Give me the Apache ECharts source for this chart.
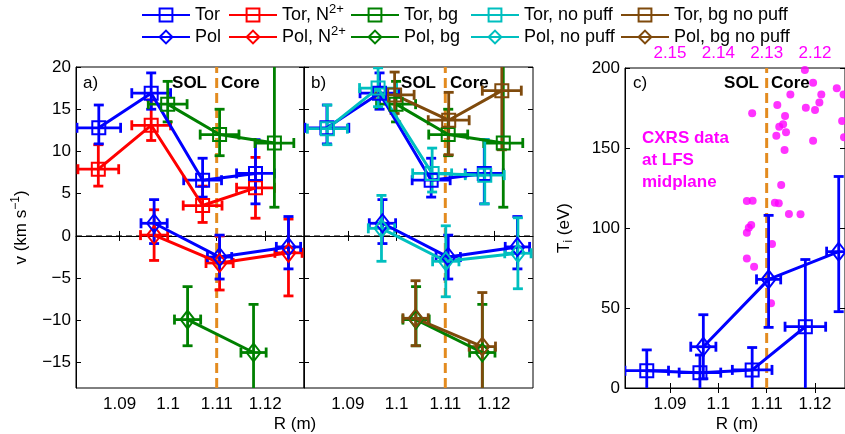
<!DOCTYPE html>
<html>
<head>
<meta charset="utf-8">
<script src="https://cdn.jsdelivr.net/npm/echarts@6/dist/echarts.min.js"></script>
<style>
  html, body { margin: 0; padding: 0; background: #fff; }
  #chart { width: 845px; height: 434px; }
</style>
</head>
<body>
<div id="chart"></div>
<script>
// ---- data (R in m, v in km/s, Ti in eV; errors are half widths) ----
const rTicks = [1.09, 1.10, 1.11, 1.12];
const vTicks = [-15, -10, -5, 0, 5, 10, 15, 20];
const tTicks = [0, 50, 100, 150, 200];
const topTickLabels = ['2.15', '2.14', '2.13', '2.12'];
const sepR = 1.11;

const torR = [1.0857, 1.0965, 1.1071, 1.1180];
const torV = [12.8, 16.9, 6.6, 7.4];
const torRErr = [0.0045, 0.0040, 0.0039, 0.0039];
const torVLo = [1.9, 1.9, 2.0, 3.6];
const torVHi = [2.7, 2.4, 2.6, 4.0];

const torNR = [1.0856, 1.0965, 1.1071, 1.1180];
const torNV = [7.9, 13.1, 3.6, 5.7];
const torNRErr = [0.0042, 0.0040, 0.0040, 0.0039];
const torNVLo = [2.0, 1.8, 2.0, 3.6];
const torNVHi = [2.9, 3.0, 2.3, 3.6];

const torBgR = [1.0999, 1.1106, 1.1219];
const torBgV = [15.6, 12.0, 11.0];
const torBgRErr = [0.0040, 0.0040, 0.0040];
const torBgVLo = [2.1, 2.5, 7.6];
const torBgVHi = [2.7, 3.0, 12.0];

const polR = [1.0971, 1.1106, 1.1248];
const polV = [1.5, -2.5, -1.3];
const polRErr = [0.0027, 0.0025, 0.0025];
const polVLo = [2.4, 2.6, 2.6];
const polVHi = [2.8, 2.6, 3.6];

const polNR = [1.0971, 1.1106, 1.1248];
const polNV = [0.1, -3.2, -2.0];
const polNRErr = [0.0028, 0.0028, 0.0028];
const polNVLo = [3.0, 3.2, 5.1];
const polNVHi = [3.0, 3.2, 4.0];

const polBgR = [1.1040, 1.1176];
const polBgV = [-9.9, -13.8];
const polBgRErr = [0.0027, 0.0026];
const polBgVLo = [3.1, 6.0];
const polBgVHi = [3.9, 5.7];

const torNpR = [1.0858, 1.0962, 1.1073, 1.1181];
const torNpV = [12.7, 17.5, 7.4, 7.2];
const torNpRErr = [0.0041, 0.0038, 0.0040, 0.0040];
const torNpVLo = [1.9, 2.2, 2.2, 3.4];
const torNpVHi = [2.8, 2.4, 3.0, 4.2];

const torBgNpR = [1.0996, 1.1107, 1.1216];
const torBgNpV = [16.7, 13.7, 17.2];
const torBgNpRErr = [0.0040, 0.0042, 0.0040];
const torBgNpVLo = [2.2, 4.1, 7.0];
const torBgNpVHi = [2.7, 3.3, 7.0];

const polNpR = [1.0969, 1.1101, 1.1249];
const polNpV = [0.9, -3.0, -2.05];
const polNpRErr = [0.0027, 0.0027, 0.0027];
const polNpVLo = [3.9, 4.2, 4.2];
const polNpVHi = [3.9, 4.2, 4.2];

const polBgNpR = [1.1039, 1.1176];
const polBgNpV = [-9.75, -13.1];
const polBgNpRErr = [0.0026, 0.0027];
const polBgNpVLo = [3.25, 6.5];
const polBgNpVHi = [4.45, 6.4];

const tiTorR = [1.0852, 1.0962, 1.1070, 1.1180];
const tiTorT = [10.8, 9.6, 11.3, 38.3];
const tiTorRErr = [0.0045, 0.0043, 0.0041, 0.0042];
const tiTorTErr = [13, 11, 14, 42];

const tiPolR = [1.0969, 1.1104, 1.1249];
const tiPolT = [25.8, 67.9, 85.2];
const tiPolRErr = [0.0026, 0.0025, 0.0025];
const tiPolTLo = [20, 30, 37.5];
const tiPolTHi = [20, 40, 47];

const cxrsR = [1.1179, 1.1196, 1.1245, 1.1149, 1.1213, 1.1259, 1.1209, 1.1122, 1.1181, 1.1200,
  1.1070, 1.1138, 1.1256, 1.1134, 1.1126, 1.1140, 1.1120, 1.1260, 1.1196, 1.1137,
  1.1130, 1.1059, 1.1071, 1.1117, 1.1125, 1.1146, 1.1170, 1.1068, 1.1063, 1.1059,
  1.1111, 1.1059, 1.1074, 1.1109];
const cxrsT = [198.8, 190.8, 187.3, 183.5, 183.5, 183.5, 178.5, 176.9, 175.2, 173.8,
  171.7, 170.0, 166.9, 164.8, 163.3, 159.8, 157.7, 156.7, 154.6, 148.8,
  126.9, 116.9, 117.1, 115.8, 115.4, 108.8, 108.6, 101.9, 100.2, 97.1,
  90.0, 81.0, 75.8, 52.9];

// ---- styling ----
const FONT = 'Liberation Sans';
const BLUE = '#0000ff', RED = '#ff0000', GREEN = '#008000', CYAN = '#00bfbf', BROWN = '#7f4a0c';
const ORANGE = '#e38b1f', MAGENTA = '#ff00ff';
const rMin = 1.081, rMax = 1.128;
const vMin = -18, vMax = 20;

const chart = echarts.init(document.getElementById('chart'));

function errRender(params, api) {
  const x = api.value(0), y = api.value(1);
  const dx = api.value(2), lo = api.value(3), hi = api.value(4);
  const c = api.coord([x, y]);
  const l = api.coord([x - dx, y])[0];
  const r = api.coord([x + dx, y])[0];
  const b = api.coord([x, y - lo])[1];
  const t = api.coord([x, y + hi])[1];
  const cap = 5;
  const style = { stroke: api.visual('color'), lineWidth: 2.8 };
  const seg = (x1, y1, x2, y2) => ({ type: 'line', shape: { x1, y1, x2, y2 }, style });
  return {
    type: 'group',
    children: [
      seg(c[0], t, c[0], b),
      seg(c[0] - cap, t, c[0] + cap, t),
      seg(c[0] - cap, b, c[0] + cap, b),
      seg(l, c[1], r, c[1]),
      seg(l, c[1] - cap, l, c[1] + cap),
      seg(r, c[1] - cap, r, c[1] + cap)
    ]
  };
}

const series = [];

function addSet(g, name, color, symbol, R, V, dR, lo, hi) {
  const isSq = symbol === 'rect';
  series.push({
    type: 'line', name, xAxisIndex: 2 * g, yAxisIndex: 2 * g,
    data: R.map((r, i) => [r, V[i]]),
    symbol, symbolSize: isSq ? 13 : [14, 18],
    lineStyle: { color, width: 3 },
    itemStyle: { color: 'rgba(0,0,0,0)', borderColor: color, borderWidth: 2 },
    silent: true, z: 3
  });
  series.push({
    type: 'custom', name, xAxisIndex: 2 * g, yAxisIndex: 2 * g,
    data: R.map((r, i) => [r, V[i], dR[i], lo[i], hi[i]]),
    renderItem: errRender, clip: true,
    itemStyle: { color }, silent: true, z: 3
  });
}

function refLines(g, yLo, yHi, xLo, xHi, withZero) {
  series.push({
    type: 'line', xAxisIndex: 2 * g, yAxisIndex: 2 * g, symbol: 'none', silent: true, z: 2,
    data: [[sepR, yLo], [sepR, yHi]],
    lineStyle: { color: ORANGE, width: 3, type: [10, 5] }
  });
  if (withZero) {
    series.push({
      type: 'line', xAxisIndex: 2 * g, yAxisIndex: 2 * g, symbol: 'none', silent: true, z: 1,
      data: [[xLo, 0], [xHi, 0]],
      lineStyle: { color: '#000', width: 1, type: [6, 4] }
    });
  }
}

// panel a
refLines(0, vMin, vMax, rMin, rMax, true);
addSet(0, 'Tor, N2+', RED, 'rect', torNR, torNV, torNRErr, torNVLo, torNVHi);
addSet(0, 'Pol, N2+', RED, 'diamond', polNR, polNV, polNRErr, polNVLo, polNVHi);
addSet(0, 'Tor', BLUE, 'rect', torR, torV, torRErr, torVLo, torVHi);
addSet(0, 'Pol', BLUE, 'diamond', polR, polV, polRErr, polVLo, polVHi);
addSet(0, 'Tor, bg', GREEN, 'rect', torBgR, torBgV, torBgRErr, torBgVLo, torBgVHi);
addSet(0, 'Pol, bg', GREEN, 'diamond', polBgR, polBgV, polBgRErr, polBgVLo, polBgVHi);
// panel b
refLines(1, vMin, vMax, rMin, rMax, true);
addSet(1, 'Tor', BLUE, 'rect', torR, torV, torRErr, torVLo, torVHi);
addSet(1, 'Pol', BLUE, 'diamond', polR, polV, polRErr, polVLo, polVHi);
addSet(1, 'Tor, bg', GREEN, 'rect', torBgR, torBgV, torBgRErr, torBgVLo, torBgVHi);
addSet(1, 'Pol, bg', GREEN, 'diamond', polBgR, polBgV, polBgRErr, polBgVLo, polBgVHi);
addSet(1, 'Tor, no puff', CYAN, 'rect', torNpR, torNpV, torNpRErr, torNpVLo, torNpVHi);
addSet(1, 'Pol, no puff', CYAN, 'diamond', polNpR, polNpV, polNpRErr, polNpVLo, polNpVHi);
addSet(1, 'Tor, bg no puff', BROWN, 'rect', torBgNpR, torBgNpV, torBgNpRErr, torBgNpVLo, torBgNpVHi);
addSet(1, 'Pol, bg no puff', BROWN, 'diamond', polBgNpR, polBgNpV, polBgNpRErr, polBgNpVLo, polBgNpVHi);
// panel c
series.push({
  type: 'scatter', name: 'CXRS', xAxisIndex: 4, yAxisIndex: 4, symbolSize: 8,
  data: cxrsR.map((r, i) => [r, cxrsT[i]]),
  itemStyle: { color: MAGENTA }, silent: true, z: 1
});
refLines(2, 0, 200, 0, 0, false);
addSet(2, 'Tor', BLUE, 'rect', tiTorR, tiTorT, tiTorRErr, tiTorTErr, tiTorTErr);
addSet(2, 'Pol', BLUE, 'diamond', tiPolR, tiPolT, tiPolRErr, tiPolTLo, tiPolTHi);

const tickStyle = { inside: true, length: 5, lineStyle: { color: '#000', width: 1 } };
const labelStyle = { fontFamily: FONT, fontSize: 17, color: '#000' };
const minus = v => String(v).replace('-', '\u2212');

const grids = [
  { left: 76, top: 67, width: 228, height: 321 },
  { left: 304, top: 67, width: 229, height: 321 },
  { left: 625, top: 68, width: 220, height: 320 }
].map(g => Object.assign(g, { show: true, borderColor: '#000', borderWidth: 1, backgroundColor: 'transparent' }));

const xAxis = [], yAxis = [];
[[rMin, rMax], [rMin, rMax], [1.0807, 1.1262]].forEach((rng, g) => {
  xAxis.push({
    type: 'value', gridIndex: g, min: rng[0], max: rng[1], position: 'bottom',
    axisLine: { lineStyle: { color: '#000' } }, splitLine: { show: false },
    axisTick: Object.assign({ customValues: rTicks }, tickStyle),
    axisLabel: Object.assign({ customValues: rTicks, margin: 8 }, labelStyle)
  });
  xAxis.push({
    type: 'value', gridIndex: g, min: rng[0], max: rng[1], position: 'top',
    axisLine: { show: false }, splitLine: { show: false },
    axisTick: Object.assign({ customValues: rTicks }, tickStyle),
    axisLabel: g === 2
      ? Object.assign({}, labelStyle, {
          customValues: rTicks, color: MAGENTA, margin: 6,
          formatter: v => topTickLabels[rTicks.findIndex(t => Math.abs(t - v) < 1e-6)]
        })
      : { show: false }
  });
});
[[vMin, vMax, vTicks], [vMin, vMax, vTicks], [0, 200, tTicks]].forEach((rng, g) => {
  const yl = {
    type: 'value', gridIndex: g, min: rng[0], max: rng[1], position: 'left',
    axisLine: { show: true, lineStyle: { color: '#000' } }, splitLine: { show: false },
    axisTick: Object.assign({ customValues: rng[2] }, tickStyle),
    axisLabel: g === 1 ? { show: false }
      : Object.assign({ customValues: rng[2], margin: 5, formatter: minus }, labelStyle)
  };
  if (g === 0) {
    Object.assign(yl, {
      name: 'v (km s{sup|\u22121})', nameLocation: 'middle', nameGap: 44,
      nameTextStyle: Object.assign({ rich: { sup: { fontFamily: FONT, fontSize: 12, padding: [0, 0, 10, 0] } } }, labelStyle)
    });
  }
  if (g === 2) {
    Object.assign(yl, {
      name: 'T{sub|i} (eV)', nameLocation: 'middle', nameGap: 50,
      nameTextStyle: Object.assign({ rich: { sub: { fontFamily: FONT, fontSize: 12, padding: [10, 0, 0, 0] } } }, labelStyle)
    });
  }
  yAxis.push(yl);
  yAxis.push({
    type: 'value', gridIndex: g, min: rng[0], max: rng[1], position: 'right',
    axisLine: { show: false }, splitLine: { show: false },
    axisTick: Object.assign({ customValues: rng[2] }, tickStyle),
    axisLabel: { show: false }
  });
});

const legendCols = [
  [141, ['Tor', 'Pol']],
  [228, ['Tor, N2+', 'Pol, N2+']],
  [350, ['Tor, bg', 'Pol, bg']],
  [470, ['Tor, no puff', 'Pol, no puff']],
  [620, ['Tor, bg no puff', 'Pol, bg no puff']]
];
const legend = legendCols.map(([left, names]) => ({
  left, top: 2, orient: 'vertical', data: names, padding: 0,
  itemWidth: 48, itemHeight: 16, itemGap: -4, selectedMode: false,
  formatter: n => n.replace('N2+', 'N{sup|2+}'),
  textStyle: Object.assign({}, labelStyle, {
    fontSize: 18, lineHeight: 26,
    rich: { sup: { fontFamily: FONT, fontSize: 13, lineHeight: 14, padding: [0, 0, 12, 0] } }
  })
}));

const bold = { fontFamily: FONT, fontSize: 17, fontWeight: 'bold', fill: '#000' };
const txt = (x, y, text, style, align) => ({
  type: 'text', x, y, style: Object.assign({ text, align: align || 'left', verticalAlign: 'middle' }, style)
});
const plain = { fontFamily: FONT, fontSize: 17, fill: '#000' };
const mag = { fontFamily: FONT, fontSize: 17, fontWeight: 'bold', fill: MAGENTA };

chart.setOption({
  animation: false,
  backgroundColor: '#fff',
  grid: grids,
  xAxis, yAxis, legend, series,
  graphic: [
    txt(83, 83, 'a)', plain), txt(311, 83, 'b)', plain), txt(633, 83, 'c)', plain),
    txt(207, 83, 'SOL', bold, 'right'), txt(221, 83, 'Core', bold),
    txt(436, 83, 'SOL', bold, 'right'), txt(450, 83, 'Core', bold),
    txt(759, 83, 'SOL', bold, 'right'), txt(771, 83, 'Core', bold),
    txt(642, 138, 'CXRS data', mag), txt(642, 160, 'at LFS', mag), txt(642, 182, 'midplane', mag),
    txt(295, 424, 'R (m)', plain, 'center'), txt(737, 424, 'R (m)', plain, 'center')
  ]
});
</script>
</body>
</html>
